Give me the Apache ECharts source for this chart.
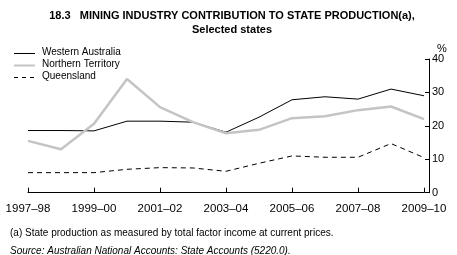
<!DOCTYPE html>
<html><head><meta charset="utf-8">
<script src="https://cdn.jsdelivr.net/npm/echarts@6/dist/echarts.min.js"></script>
<style>html,body{margin:0;padding:0;background:#fff}#c{width:457px;height:255px}</style>
</head><body><div id="c"></div>
<script>
const categories = ['1997–98','1998–99','1999–00','2000–01','2001–02','2002–03','2003–04','2004–05','2005–06','2006–07','2007–08','2008–09','2009–10'];
const westernAustralia = [18.6, 18.6, 18.5, 21.4, 21.4, 21.1, 18.1, 22.6, 27.8, 28.7, 28.0, 31.0, 29.0];
const northernTerritory = [15.5, 13.0, 20.6, 34.0, 25.6, 21.1, 17.8, 18.8, 22.3, 22.9, 24.7, 25.8, 22.0];
const queensland = [6.0, 6.0, 6.0, 7.0, 7.5, 7.4, 6.4, 8.8, 11.0, 10.6, 10.6, 14.7, 10.5];
const seriesNames = ['Western Australia', 'Northern Territory', 'Queensland'];
const yTicks = [0, 10, 20, 30, 40];

const F = 'Liberation Sans, Arial, sans-serif';
const styles = [
  {color: '#000', width: 1, type: 'solid'},
  {color: '#c4c4c4', width: 2.5, type: 'solid'},
  {color: '#000', width: 1, type: [5, 4]}
];
const legendGraphics = [];
seriesNames.forEach((n, i) => {
  const y = 53.5 + i * 12;
  legendGraphics.push({type: 'line', shape: {x1: 14, y1: y, x2: 35, y2: y},
    style: {stroke: styles[i].color, lineWidth: i === 1 ? 2 : 1, lineDash: i === 2 ? [4, 4] : null}});
  legendGraphics.push({type: 'text', left: 42, top: y - 6.5,
    style: {text: n, fill: '#000', font: '10px ' + F}});
});

const chart = echarts.init(document.getElementById('c'));
chart.setOption({
  animation: false,
  textStyle: {fontFamily: F},
  title: [
    {text: '18.3   MINING INDUSTRY CONTRIBUTION TO STATE PRODUCTION(a),\nSelected states', left: 227, textAlign: 'center', top: 4,
     textStyle: {fontSize: 11, fontWeight: 'bold', color: '#000', lineHeight: 14, fontFamily: F}},
    {text: '(a) State production as measured by total factor income at current prices.', left: 5, top: 223,
     textStyle: {fontSize: 10, fontWeight: 'normal', color: '#000', fontFamily: F}},
    {text: 'Source: Australian National Accounts: State Accounts (5220.0).', left: 5, top: 241,
     textStyle: {fontSize: 10, fontWeight: 'normal', fontStyle: 'italic', color: '#000', fontFamily: F}},
    {text: '%', left: 432, top: 38, textStyle: {fontSize: 11, fontWeight: 'normal', color: '#000', fontFamily: F}}
  ],
  graphic: legendGraphics,
  grid: {left: 28, right: 33, top: 59, bottom: 62.3},
  xAxis: {
    type: 'category', data: categories, boundaryGap: false, offset: 5,
    axisLine: {lineStyle: {color: '#000', width: 1}},
    axisTick: {inside: true, length: 5, interval: 1, lineStyle: {color: '#000'}},
    axisLabel: {interval: 1, color: '#000', fontSize: 11.5, margin: 5, fontFamily: F},
    splitLine: {show: false}
  },
  yAxis: {
    type: 'value', position: 'right', min: yTicks[0], max: yTicks[yTicks.length-1], interval: 10, offset: 5,
    axisLine: {show: true, lineStyle: {color: '#000', width: 1}},
    axisTick: {show: true, inside: true, length: 4, lineStyle: {color: '#000'}},
    axisLabel: {color: '#000', fontSize: 11, margin: 3, fontFamily: F},
    splitLine: {show: false}
  },
  series: seriesNames.map((n, i) => ({
    name: n, type: 'line', data: [westernAustralia, northernTerritory, queensland][i], symbol: 'none',
    lineStyle: {color: styles[i].color, width: styles[i].width, type: styles[i].type}
  }))
});
</script></body></html>
